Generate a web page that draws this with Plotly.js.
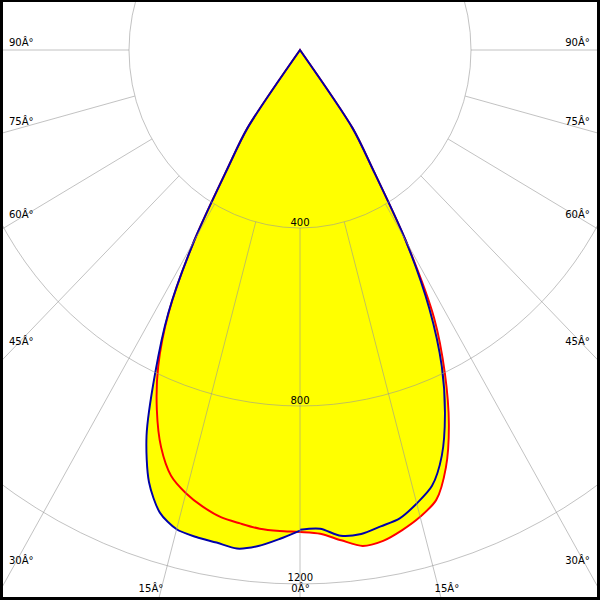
<!DOCTYPE html>
<html><head><meta charset="utf-8">
<script src="https://cdn.plot.ly/plotly-3.0.1.min.js"></script>
<style>
html,body{margin:0;padding:0;background:#fff}
#wrap{position:relative;width:600px;height:600px;overflow:hidden;background:#fff}
#plot{position:absolute;left:-350px;top:-600px;width:1300px;height:1300px;transform:scaleX(0.9607);transform-origin:650px 0}
#frame{position:absolute;left:0;top:0;width:600px;height:600px;box-sizing:border-box;border:solid #000;border-width:2px 3px 3px 3px;pointer-events:none}
</style></head><body>
<div id="wrap"><div id="plot"></div><div id="frame"></div></div>
<script>
// gamma angles (deg from nadir) and intensities (cd) for each half-plane
const gamma      = [0, 2.5, 5, 7.5, 10, 12.5, 15, 17.5, 20, 22.5, 25, 27.5, 30, 32.5, 35, 37.5];
const redRight   = [1083, 1088, 1106, 1124, 1120, 1105, 1086, 1060, 998, 910, 802, 680, 495, 315, 215, 0];
const redLeft    = [1083, 1082, 1080, 1073, 1066, 1051, 1031, 1003, 950, 875, 785, 665, 495, 315, 215, 0];
const blueRight  = [1078, 1077, 1096, 1097, 1087, 1078, 1055, 1027, 970, 886, 785, 655, 495, 315, 215, 0];
const blueLeft   = [1080, 1100, 1119, 1130, 1124, 1121, 1115, 1090, 1033, 938, 802, 668, 495, 315, 215, 0];

const angleGrid    = [0, 15, 30, 45, 60, 75, 90];
const radialGrid   = [400, 800, 1200];
const radialLabels = ["400", "800", "1200"];
const sideLabels   = ["90Â°", "75Â°", "60Â°", "45Â°", "30Â°"];
const bottomLabels = ["15Â°", "0Â°", "15Â°"];

// layout geometry
const S = 1300, SX = 0.9607, PXPER400 = 178;
const RMAX = 400 * (S / 2) / PXPER400;
const GRID = 'rgba(150,150,150,0.6)';
const FONT = {family: 'DejaVu Sans, Verdana, sans-serif', size: 10.5, color: '#000'};

function loop(right, left) {
  // right half 0..37.5, then left half 37.5..0 (apex point doubled -> sharp tip)
  const th = gamma.concat(gamma.slice().reverse().map(g => -g));
  const r = right.concat(left.slice().reverse());
  return {theta: th, r: r};
}
const red = loop(redRight, redLeft);
const blue = loop(blueRight, blueLeft);

const SHAPE = {shape: 'spline', smoothing: 0.8};
function fillTrace(c) {
  return {type: 'scatterpolar', subplot: 'polar', r: c.r, theta: c.theta, mode: 'lines',
    fill: 'toself', fillcolor: '#FFFF00',
    line: Object.assign({color: '#FFFF00', width: 0.5}, SHAPE), hoverinfo: 'skip'};
}
function lineTrace(c, col) {
  return {type: 'scatterpolar', subplot: 'polar', r: c.r, theta: c.theta, mode: 'lines',
    line: Object.assign({color: col, width: 2}, SHAPE), hoverinfo: 'skip'};
}
const traces = [
  fillTrace(red), fillTrace(blue),
  lineTrace(red, '#FF0000'), lineTrace(blue, '#0000AA'),
  {type: 'scatterpolar', subplot: 'polar2', r: [1000], theta: [0], mode: 'markers',
   marker: {opacity: 0, size: 1}, hoverinfo: 'skip'}
];

// page pixel -> paper coords of the oversized figure
function P(px, py) {
  return {x: (S / 2 + (px - 300) / SX) / S, y: 1 - (py + (S / 2 - 50)) / S};
}
const annotations = [];
function addLabel(text, px, py) {
  const p = P(px, py);
  annotations.push({text: text, x: p.x, y: p.y, xref: 'paper', yref: 'paper',
    xanchor: 'center', yanchor: 'middle', showarrow: false, font: FONT});
}
const sideY = [42, 121, 214, 341, 560];
sideLabels.forEach((t, i) => { addLabel(t, 21, sideY[i]); addLabel(t, 578, sideY[i]); });
const bottomX = [151, 300, 447];
bottomLabels.forEach((t, i) => addLabel(t, bottomX[i], 588));
const radialY = [222, 400, 577];
radialLabels.forEach((t, i) => addLabel(t, 300, radialY[i]));

const angTicks = angleGrid.concat(angleGrid.slice(1).map(a => 360 - a));

const layout = {
  width: S, height: S, margin: {l: 0, r: 0, t: 0, b: 0},
  paper_bgcolor: 'rgba(0,0,0,0)', showlegend: false,
  polar: {
    domain: {x: [0, 1], y: [0, 1]}, bgcolor: 'rgba(0,0,0,0)',
    radialaxis: {range: [0, RMAX], visible: false},
    angularaxis: {rotation: -90, direction: 'counterclockwise', visible: false}
  },
  polar2: {
    domain: {x: [0, 1], y: [0, 1]}, bgcolor: 'rgba(0,0,0,0)', hole: 400 / RMAX,
    radialaxis: {range: [400, RMAX], tickvals: radialGrid.slice(1), showticklabels: false,
      ticks: '', showline: false, gridcolor: GRID, gridwidth: 1},
    angularaxis: {rotation: -90, direction: 'counterclockwise', tickvals: angTicks,
      showticklabels: false, ticks: '', showline: true, linecolor: GRID, linewidth: 1,
      gridcolor: GRID, gridwidth: 1}
  },
  annotations: annotations
};
Plotly.newPlot('plot', traces, layout, {staticPlot: true, displayModeBar: false});
</script>
</body></html>
